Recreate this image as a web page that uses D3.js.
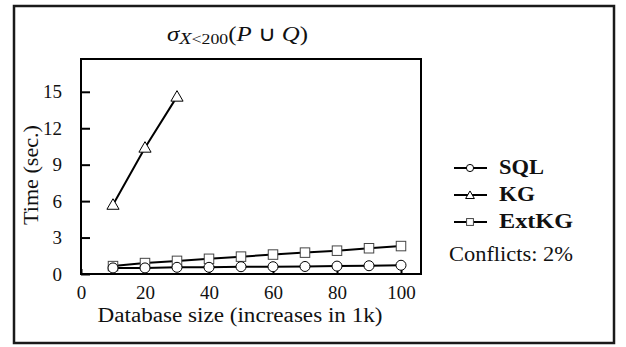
<!DOCTYPE html>
<html lang="en">
<head>
    <meta charset="UTF-8">
    <title>Selection over union</title>
    <style>
        body { margin: 0; background: #ffffff; }
        svg text { font-family: 'Liberation Serif', 'Times New Roman', serif; fill: #111; }
        .tick text { font-size: 19px; }
    </style>
    <script src="https://d3js.org/d3.v7.min.js"></script>
</head>
<body>
<svg id="chart" width="626" height="347"></svg>
<script>
    // Data
    const sizes = [10, 20, 30, 40, 50, 60, 70, 80, 90, 100];
    const sqlTimes = [0.5, 0.5, 0.55, 0.55, 0.6, 0.6, 0.62, 0.65, 0.68, 0.72];
    const kgSizes = [10, 20, 30];
    const kgTimes = [5.7, 10.4, 14.6];
    const extkgTimes = [0.65, 0.9, 1.08, 1.25, 1.43, 1.6, 1.76, 1.92, 2.12, 2.3];
    const xTicks = [0, 20, 40, 60, 80, 100];
    const yTicks = [0, 3, 6, 9, 12, 15];
    const seriesNames = ["SQL", "KG", "ExtKG"];
    const legendWidths = [45, 36, 74];

    const svg = d3.select("#chart");
    const plotL = 81, plotR = 421, plotT = 59, plotB = 274;

    const x = d3.scaleLinear().domain([0, 106.25]).range([plotL, plotR]);
    const y = d3.scaleLinear().domain([0, 17.7]).range([plotB, plotT]);

    // outer frame
    svg.append("rect")
        .attr("x", 14).attr("y", 6).attr("width", 600).attr("height", 337)
        .attr("fill", "none").attr("stroke", "#1a1a1a").attr("stroke-width", 2.5);

    // plot box
    svg.append("rect")
        .attr("x", plotL).attr("y", plotT).attr("width", plotR - plotL).attr("height", plotB - plotT)
        .attr("fill", "none").attr("stroke", "#000").attr("stroke-width", 2);

    // axes (ticks pointing inwards)
    const xAxis = svg.append("g")
        .attr("transform", `translate(0,${plotB})`)
        .call(d3.axisBottom(x).tickValues(xTicks).tickSize(-5).tickPadding(12));
    const yAxis = svg.append("g")
        .attr("transform", `translate(${plotL},0)`)
        .call(d3.axisLeft(y).tickValues(yTicks).tickSize(-9).tickPadding(19));
    [xAxis, yAxis].forEach(a => {
        a.select(".domain").remove();
        a.selectAll(".tick line").attr("stroke", "#000").attr("stroke-width", 2);
        a.selectAll(".tick text").attr("fill", "#111").style("font-family", "'Liberation Serif', serif");
    });
    xAxis.selectAll(".tick text").attr("dy", "0.7em");

    // axis titles
    svg.append("text")
        .attr("x", 240).attr("y", 322)
        .attr("text-anchor", "middle")
        .attr("font-size", 20)
        .attr("textLength", 285).attr("lengthAdjust", "spacingAndGlyphs")
        .text("Database size (increases in 1k)");
    svg.append("text")
        .attr("transform", "translate(38,175) rotate(-90)")
        .attr("text-anchor", "middle")
        .attr("font-size", 20)
        .attr("textLength", 100).attr("lengthAdjust", "spacingAndGlyphs")
        .text("Time (sec.)");

    // title: σ_{X<200}(P ∪ Q)
    const title = svg.append("text")
        .attr("x", 167).attr("y", 41)
        .attr("font-size", 21)
        .attr("textLength", 141).attr("lengthAdjust", "spacingAndGlyphs");
    title.append("tspan").attr("font-style", "italic").text("σ");
    title.append("tspan").attr("font-style", "italic").attr("font-size", 17).attr("dy", 3).text("X");
    title.append("tspan").attr("font-size", 15).text("<200");
    title.append("tspan").attr("dy", -3).text("(");
    title.append("tspan").attr("font-style", "italic").text("P");
    title.append("tspan").text(" ∪ ");
    title.append("tspan").attr("font-style", "italic").text("Q");
    title.append("tspan").text(")");

    const line = d3.line().x(d => x(d[0])).y(d => y(d[1]));

    const sqlPts = sizes.map((s, i) => [s, sqlTimes[i]]);
    const kgPts = kgSizes.map((s, i) => [s, kgTimes[i]]);
    const extPts = sizes.map((s, i) => [s, extkgTimes[i]]);

    [extPts, sqlPts, kgPts].forEach(pts => {
        svg.append("path").datum(pts)
            .attr("d", line)
            .attr("fill", "none").attr("stroke", "#000").attr("stroke-width", 2);
    });

    const tri = d3.symbol().type(d3.symbolTriangle);

    function drawMarker(g, kind, cx, cy, scale) {
        if (kind === "SQL") {
            g.append("circle").attr("cx", cx).attr("cy", cy).attr("r", 5 * scale)
                .attr("fill", "#fff").attr("stroke", "#000").attr("stroke-width", 1);
        } else if (kind === "KG") {
            g.append("path").attr("d", tri.size(64 * scale * scale)())
                .attr("transform", `translate(${cx},${cy + 1})`)
                .attr("fill", "#fff").attr("stroke", "#000").attr("stroke-width", 1);
        } else {
            const s = 9.5 * scale;
            g.append("rect").attr("x", cx - s / 2).attr("y", cy - s / 2).attr("width", s).attr("height", s)
                .attr("fill", "#fff").attr("stroke", "#444").attr("stroke-width", 1);
        }
    }

    const marks = svg.append("g");
    extPts.forEach(p => drawMarker(marks, "ExtKG", x(p[0]), y(p[1]), 1));
    sqlPts.forEach(p => drawMarker(marks, "SQL", x(p[0]), y(p[1]), 1));
    kgPts.forEach(p => drawMarker(marks, "KG", x(p[0]), y(p[1]), 1));

    // legend
    const legend = svg.append("g");
    seriesNames.forEach((name, i) => {
        const ly = 168 + i * 27;
        legend.append("line")
            .attr("x1", 454).attr("x2", 487).attr("y1", ly).attr("y2", ly)
            .attr("stroke", "#000").attr("stroke-width", 2);
        drawMarker(legend, name, 470, ly, 0.72);
        legend.append("text")
            .attr("x", 499).attr("y", ly + 6)
            .attr("font-size", 20).attr("font-weight", "bold")
            .attr("textLength", legendWidths[i]).attr("lengthAdjust", "spacingAndGlyphs")
            .text(name);
    });
    legend.append("text")
        .attr("x", 449).attr("y", 261)
        .attr("font-size", 20)
        .attr("textLength", 124).attr("lengthAdjust", "spacingAndGlyphs")
        .text("Conflicts: 2%");
</script>
</body>
</html>
